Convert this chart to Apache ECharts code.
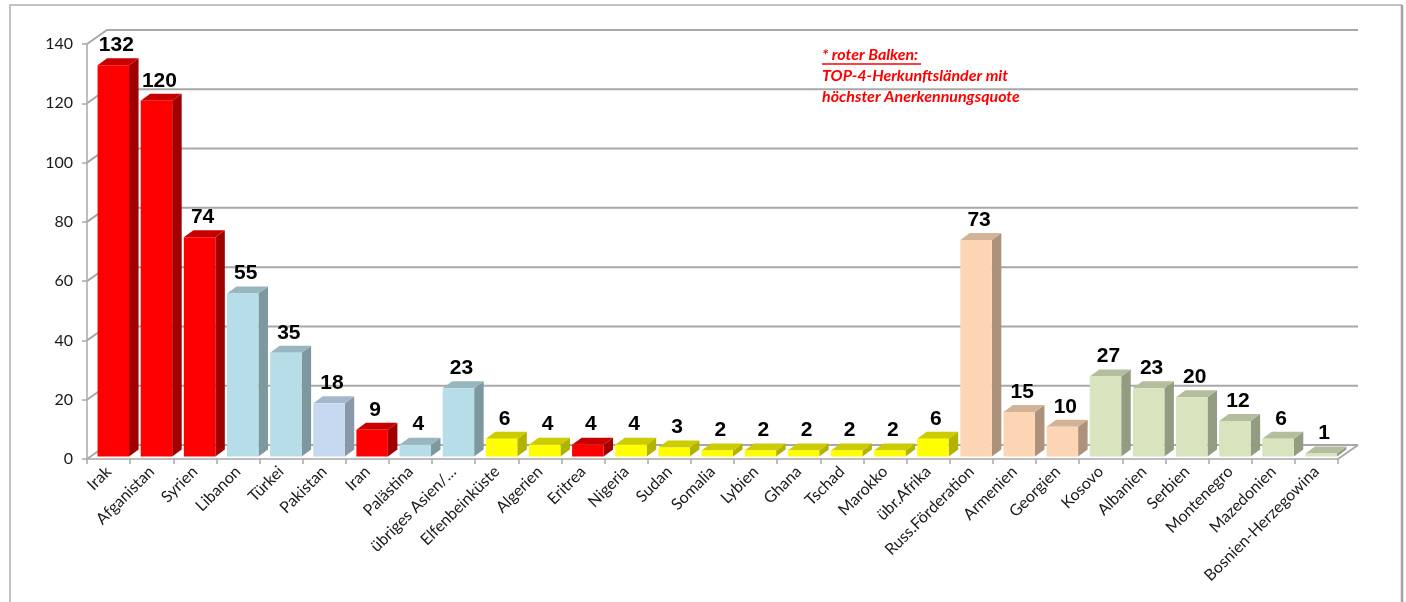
<!DOCTYPE html>
<html>
<head>
<meta charset="utf-8">
<script src="https://cdn.jsdelivr.net/npm/echarts@6/dist/echarts.min.js"></script>
<style>
html,body{margin:0;padding:0;background:#fff;}
#chart{width:1406px;height:602px;}
</style>
</head>
<body>
<div id="chart"></div>
<script>
// ---- data ----
const categories = ['Irak','Afganistan','Syrien','Libanon','Türkei','Pakistan','Iran','Palästina','übriges Asien/…','Elfenbeinküste','Algerien','Eritrea','Nigeria','Sudan','Somalia','Lybien','Ghana','Tschad','Marokko','übr.Afrika','Russ.Förderation','Armenien','Georgien','Kosovo','Albanien','Serbien','Montenegro','Mazedonien','Bosnien-Herzegowina'];
const values = [132,120,74,55,35,18,9,4,23,6,4,4,4,3,2,2,2,2,2,6,73,15,10,27,23,20,12,6,1];
const groups = ['top4','top4','top4','asia','asia','pakistan','top4','asia','asia','africa','africa','top4','africa','africa','africa','africa','africa','africa','africa','africa','east','east','east','balkan','balkan','balkan','balkan','balkan','balkan'];
const yTicks = [0,20,40,60,80,100,120,140];
const noteLines = ['* roter Balken:','TOP-4-Herkunftsländer mit','höchster Anerkennungsquote'];

// ---- styles ----
const palette = {
  top4:     {front:'#ff0000', side:'#a00000', top:'#c80000'},
  asia:     {front:'#b7dde8', side:'#7e989f', top:'#98b6bf'},
  pakistan: {front:'#c6d9f1', side:'#8a97a8', top:'#a7b7cb'},
  africa:   {front:'#ffff00', side:'#b2b200', top:'#cccc00'},
  east:     {front:'#fcd5b5', side:'#ad917b', top:'#d2b397'},
  balkan:   {front:'#d7e4bd', side:'#929c80', top:'#b3bf9c'}
};
const WALL_DX = 20, WALL_DY = 14;
const BAR_DX = 9.5, BAR_DY = 7;
const GRID_COLOR = '#a8a8a8';

const chart = echarts.init(document.getElementById('chart'), null, {renderer:'canvas'});

function renderWall(params, api) {
  const cs = params.coordSys;
  const v = api.value(1);
  const p = api.coord([0, v]);
  const gx = cs.x, gw = cs.width;
  const children = [{
    type:'polyline',
    shape:{points:[[gx, p[1]], [gx + WALL_DX, p[1] - WALL_DY], [gx + gw + WALL_DX, p[1] - WALL_DY]]},
    style:{stroke:GRID_COLOR, lineWidth:2, fill:null}
  }];
  if (v === 0) {
    children.push({
      type:'line',
      shape:{x1:gx + gw, y1:p[1], x2:gx + gw + WALL_DX, y2:p[1] - WALL_DY},
      style:{stroke:GRID_COLOR, lineWidth:2}
    });
  }
  return {type:'group', children};
}

function renderBar(params, api) {
  const idx = api.value(0), v = api.value(1);
  const base = api.coord([idx, 0]);
  const topP = api.coord([idx, v]);
  const bw = api.size([1, 0])[0];
  const lift = 2.5;
  const x0 = base[0] - bw / 2 + bw * 0.245;
  const x1 = x0 + bw * 0.73;
  const yb = base[1] - lift, yt = topP[1] - lift;
  const c = palette[groups[idx]];
  return {
    type:'group',
    children:[
      {type:'polygon', shape:{points:[[x1, yb], [x1 + BAR_DX, yb - BAR_DY], [x1 + BAR_DX, yt - BAR_DY], [x1, yt]]}, style:{fill:c.side}},
      {type:'polygon', shape:{points:[[x0, yt], [x0 + BAR_DX, yt - BAR_DY], [x1 + BAR_DX, yt - BAR_DY], [x1, yt]]}, style:{fill:c.top}},
      {type:'rect', shape:{x:x0, y:yt, width:x1 - x0, height:Math.max(0, yb - yt)}, style:{fill:c.front}},
      {type:'text', z2:10, style:{text:String(v), x:(x0 + x1) / 2 + 3, y:yt - BAR_DY - 13, align:'center', verticalAlign:'middle', font:'bold 21px "Liberation Sans", Arial, sans-serif', fill:'#000'}}
    ]
  };
}

const noteFont = 'italic bold 16px Lato, "Open Sans", sans-serif';
const graphics = [
  {type:'polyline', shape:{points:[[10, 610], [10, 5], [1402, 5]]}, style:{stroke:'#b0b0b0', lineWidth:1.5, fill:null}, silent:true},
  {type:'line', shape:{x1:1402, y1:5, x2:1402, y2:610}, style:{stroke:'#a0a0a0', lineWidth:2.5}, silent:true}
];
noteLines.forEach((t, i) => {
  graphics.push({type:'text', x:822, y:55 + i * 21, style:{text:t, font:noteFont, fill:'#ff0000', verticalAlign:'middle'}, silent:true});
});
graphics.push({type:'line', shape:{x1:822, y1:64, x2:921, y2:64}, style:{stroke:'#ff0000', lineWidth:1.5}, silent:true});

chart.setOption({
  animation:false,
  backgroundColor:'#ffffff',
  grid:{left:87, right:68, top:44, bottom:143},
  xAxis:{
    type:'category', data:categories,
    axisLine:{show:true, lineStyle:{color:GRID_COLOR, width:1.5}},
    axisTick:{show:true, length:5, lineStyle:{color:GRID_COLOR, width:1.5}},
    axisLabel:{rotate:45, interval:0, margin:10, fontSize:16, fontFamily:'Lato, "Open Sans", sans-serif', color:'#1a1a1a'},
    splitLine:{show:false}
  },
  yAxis:{
    type:'value', min:0, max:140, interval:20,
    axisLine:{show:true, lineStyle:{color:GRID_COLOR, width:1.5}},
    axisTick:{show:true, length:5, lineStyle:{color:GRID_COLOR, width:1.5}},
    axisLabel:{margin:14, fontSize:16, fontFamily:'Lato, "Open Sans", sans-serif', color:'#1a1a1a'},
    splitLine:{show:false}
  },
  graphic:graphics,
  series:[
    {type:'custom', name:'wall', silent:true, clip:false, z:1, renderItem:renderWall, data:yTicks.map(v => [0, v]), encode:{x:0, y:1}},
    {type:'custom', name:'bars', silent:true, clip:false, z:3, renderItem:renderBar, data:values.map((v, i) => [i, v]), encode:{x:0, y:1}}
  ]
});
</script>
</body>
</html>
